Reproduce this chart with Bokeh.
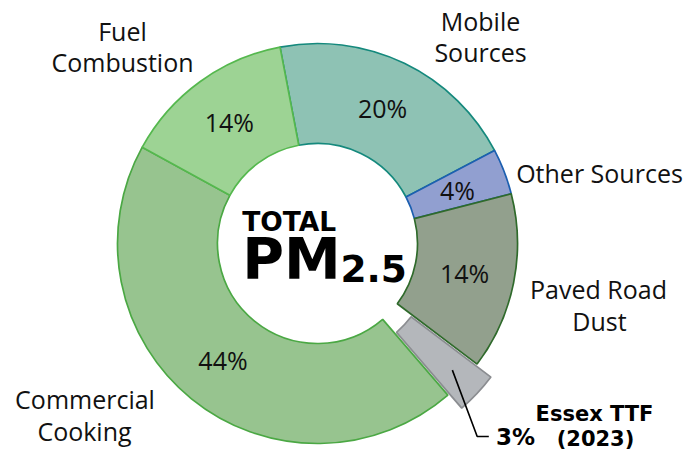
import math
from bokeh.plotting import figure
from bokeh.models import Range1d, ColumnDataSource
from bokeh.core.properties import value
from bokeh.embed import file_html
from bokeh.resources import INLINE

# ---- data ----
categories = ["Mobile Sources", "Other Sources", "Paved Road Dust",
              "Essex TTF (2023)", "Commercial Cooking", "Fuel Combustion"]
shares = [20.3, 3.7, 14.3, 3.4, 44.3, 14.0]
explode = [0, 0, 0, 1, 0, 0]

# ---- styles ----
fill_colors = ["#8ec2b4", "#919fd0", "#92a08d", "#b4b7bb", "#97c48f", "#9dd394"]
line_colors = ["#15897d", "#1c5fb0", "#2f6a2b", "#8b8d91", "#4ba844", "#55b84e"]
FONT = "Open Sans"
BOLD = "DejaVu Sans"
start_cw = -10.8          # first slice angle, degrees clockwise from 12 o'clock
inner_r, outer_r, label_r = 0.5, 1.0, 0.75
explode_dist = 0.095

p = figure(width=683, height=450, output_backend="svg", toolbar_location=None,
           x_range=Range1d(-1.585, 1.83), y_range=Range1d(-1.035, 1.215),
           min_border=0, min_border_left=0, min_border_right=0,
           min_border_top=0, min_border_bottom=0)
p.axis.visible = False
p.grid.visible = False
p.outline_line_color = None
p.background_fill_color = "white"

total = sum(shares)
xs, ys, sa, ea, lx, ly, mids = [], [], [], [], [], [], []
acc = start_cw
for s, e in zip(shares, explode):
    t0 = acc
    t1 = acc + s / total * 360.0
    acc = t1
    mid = math.radians(90 - (t0 + t1) / 2)
    cx = explode_dist * math.cos(mid) if e else 0.0
    cy = explode_dist * math.sin(mid) if e else 0.0
    xs.append(cx); ys.append(cy)
    sa.append(math.radians(90 - t0)); ea.append(math.radians(90 - t1))
    lx.append(cx + label_r * math.cos(mid)); ly.append(cy + label_r * math.sin(mid))
    mids.append(mid)

src = ColumnDataSource(dict(x=xs, y=ys, sa=sa, ea=ea, fill=fill_colors, line=line_colors))
p.annular_wedge(x="x", y="y", inner_radius=inner_r, outer_radius=outer_r,
                start_angle="sa", end_angle="ea", direction="clock",
                fill_color="fill", line_color="line", line_width=1.7, source=src)

# inside percent labels (all but the exploded one)
inside = [i for i, e in enumerate(explode) if not e]
p.text(x=[lx[i] for i in inside], y=[ly[i] for i in inside],
       text=[f"{round(shares[i])}%" for i in inside],
       text_font=value(FONT), text_font_size="25px", text_color="#111111",
       text_align="center", text_baseline="middle")

# exploded slice: leader line + bold percent
ei = explode.index(1)
sx = xs[ei] + 0.83 * math.cos(mids[ei])
sy = ys[ei] + 0.83 * math.sin(mids[ei])
p.line(x=[sx, 0.7985, 0.8565], y=[sy, -0.965, -0.965], line_color="black", line_width=1.6)
p.text(x=[0.99], y=[-0.965], text=[f"{round(shares[ei])}%"], text_font=value(BOLD),
       text_font_style="bold", text_font_size="23px", text_color="black",
       text_align="center", text_baseline="middle")

# category labels
cat_lines = ["Fuel", "Combustion", "Mobile", "Sources", "Other Sources",
             "Paved Road", "Dust", "Commercial", "Cooking"]
cat_x = [-0.975, -0.975, 0.815, 0.815, 1.41, 1.405, 1.41, -1.1625, -1.165]
cat_y = [1.065, 0.9065, 1.115, 0.96, 0.355, -0.225, -0.385, -0.7785, -0.935]
p.text(x=cat_x, y=cat_y, text=cat_lines, text_font=value(FONT), text_font_size="25px",
       text_color="#111111", text_align="center", text_baseline="middle")

p.text(x=[1.385, 1.39], y=[-0.85, -0.975], text=["Essex TTF", "(2023)"],
       text_font=value(BOLD), text_font_style="bold", text_font_size="21px",
       text_color="black", text_align="center", text_baseline="middle")

# center title
p.text(x=[-0.3765], y=[0.11], text=["TOTAL"], text_font=value(BOLD), text_font_style="bold",
       text_font_size="26.5px", text_color="black", text_align="left", text_baseline="middle")
p.text(x=[-0.3765], y=[-0.075], text=["PM"], text_font=value(BOLD), text_font_style="bold",
       text_font_size="57px", text_color="black", text_align="left", text_baseline="middle")
p.text(x=[0.115], y=[-0.1225], text=["2.5"], text_font=value(BOLD), text_font_style="bold",
       text_font_size="37.5px", text_color="black", text_align="left", text_baseline="middle")

open("out.html", "w").write(file_html(p, INLINE))
